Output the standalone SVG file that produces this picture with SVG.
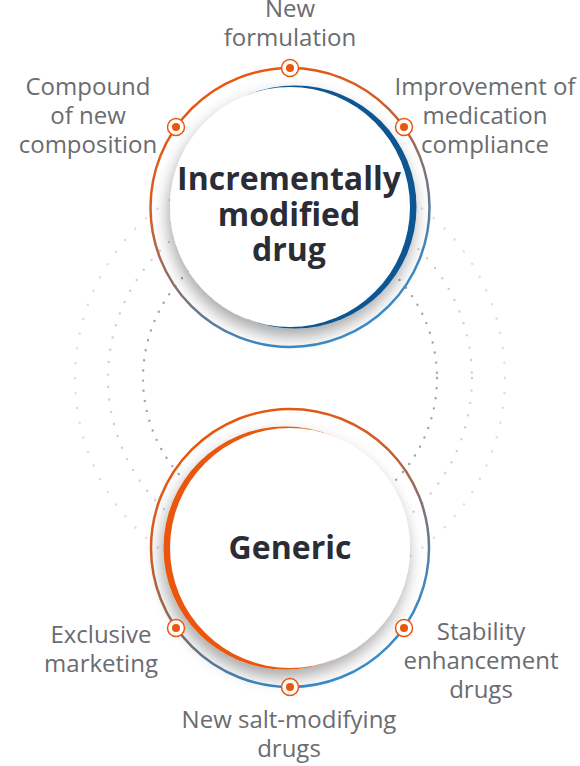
<svg xmlns="http://www.w3.org/2000/svg" xmlns:xlink="http://www.w3.org/1999/xlink" width="580" height="766" viewBox="0 0 580 766">
<style>
.lbl{font-family:"Open Sans","Noto Sans",sans-serif;font-size:24px;fill:#6a6c70;text-anchor:middle}
.title{font-family:"Open Sans","Noto Sans",sans-serif;font-size:32px;font-weight:700;fill:#2a2d36;text-anchor:middle}
.ring{fill:none;stroke:url(#ringGrad);stroke-width:2.5}
.orbit{fill:none;stroke-linecap:round}
</style>
<defs>
<linearGradient id="ringGrad" x1="0.25" y1="0.05" x2="0.75" y2="1">
<stop offset="0" stop-color="#ea560c"/>
<stop offset="0.3" stop-color="#d05f28"/>
<stop offset="0.58" stop-color="#7c7478"/>
<stop offset="0.82" stop-color="#3c88c4"/>
<stop offset="1" stop-color="#3a8fd0"/>
</linearGradient>
<filter id="shadow" x="-30%" y="-30%" width="160%" height="170%">
<feDropShadow dx="-2" dy="8" stdDeviation="8" flood-color="#000" flood-opacity="0.35"/>
</filter>
<g id="pin">
<circle r="8.5" fill="#fff" stroke="#ea560c" stroke-width="1.5"/>
<circle r="4" fill="#ea560c"/>
</g>
</defs>
<rect width="580" height="766" fill="#fff"/>
<g id="orbits">
<circle class="orbit" cx="290" cy="378" r="215" stroke="#dcdcdc" stroke-width="2.4" stroke-dasharray="0 15"/>
<circle class="orbit" cx="290" cy="378" r="182" stroke="#cfcfcf" stroke-width="2.4" stroke-dasharray="0 12.5"/>
<circle class="orbit" cx="290" cy="378" r="147" stroke="#a3a3a3" stroke-width="2.4" stroke-dasharray="0 10.2"/>
</g>
<g id="connectors"></g>
<g id="node-imd">
<circle class="ring" cx="290" cy="207.5" r="139.5"/>
<g filter="url(#shadow)">
<circle cx="295" cy="207" r="121.5" fill="#0b5691"/>
<circle cx="290" cy="207" r="120" fill="#fff"/>
</g>
<text class="title" x="289" y="190">Incrementally</text>
<text class="title" x="289" y="226">modified</text>
<text class="title" x="289" y="261">drug</text>
</g>
<g id="node-generic">
<circle class="ring" cx="290" cy="548" r="139"/>
<g filter="url(#shadow)">
<circle cx="285" cy="548" r="121.5" fill="#ea560c"/>
<circle cx="290" cy="548" r="120" fill="#fff"/>
</g>
<text class="title" x="290" y="559">Generic</text>
</g>
<g id="pins">
<use xlink:href="#pin" x="290" y="68"/>
<use xlink:href="#pin" x="176" y="127"/>
<use xlink:href="#pin" x="404" y="127"/>
<use xlink:href="#pin" x="176" y="628"/>
<use xlink:href="#pin" x="290" y="687"/>
<use xlink:href="#pin" x="404" y="628"/>
</g>
<g id="label-new-formulation">
<text class="lbl" x="290" y="17">New</text>
<text class="lbl" x="290" y="46">formulation</text>
</g>
<g id="label-compound">
<text class="lbl" x="88" y="95">Compound</text>
<text class="lbl" x="88" y="124">of new</text>
<text class="lbl" x="88" y="153">composition</text>
</g>
<g id="label-improvement">
<text class="lbl" x="485" y="95">Improvement of</text>
<text class="lbl" x="485" y="124">medication</text>
<text class="lbl" x="485" y="153">compliance</text>
</g>
<g id="label-exclusive">
<text class="lbl" x="101" y="643">Exclusive</text>
<text class="lbl" x="101" y="672">marketing</text>
</g>
<g id="label-stability">
<text class="lbl" x="481" y="640">Stability</text>
<text class="lbl" x="481" y="669">enhancement</text>
<text class="lbl" x="481" y="698">drugs</text>
</g>
<g id="label-new-salt">
<text class="lbl" x="289" y="728">New salt-modifying</text>
<text class="lbl" x="289" y="757">drugs</text>
</g>
</svg>
